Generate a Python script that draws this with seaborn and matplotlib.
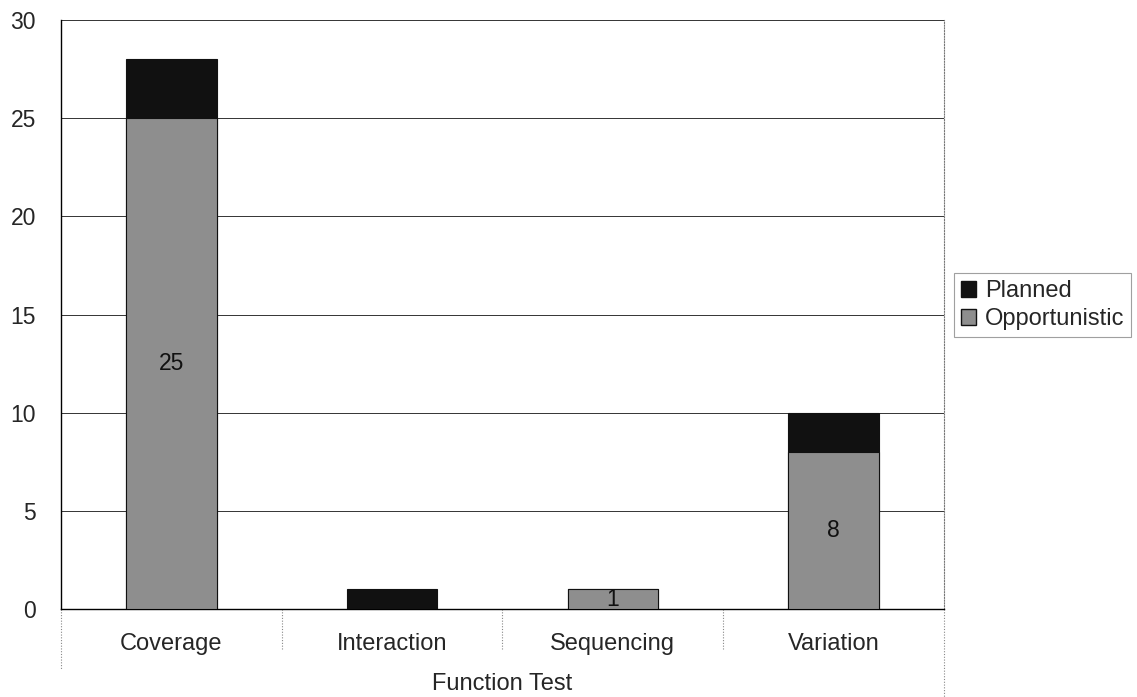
import matplotlib
matplotlib.use("Agg")
import matplotlib.pyplot as plt
import matplotlib.transforms as mtransforms
from matplotlib.patches import Patch
import seaborn as sns
import pandas as pd

categories = ["Coverage", "Interaction", "Sequencing", "Variation"]
opportunistic = [25, 0, 1, 8]
planned = [3, 1, 0, 2]
opp_labels = ["25", "", "1", "8"]
yticks = [0, 5, 10, 15, 20, 25, 30]

sns.set_theme(style="white")
plt.rcParams["font.family"] = ["Liberation Sans", "DejaVu Sans"]

df = pd.DataFrame({
    "Function Test": categories,
    "Opportunistic": opportunistic,
    "Planned": planned,
})
df["Total"] = df["Opportunistic"] + df["Planned"]

fig = plt.figure(figsize=(11.37, 6.97), dpi=100)
ax = fig.add_axes([61/1137, 88/697, 883/1137, 589/697])

BLACK = "#111111"
GRAY = "#8e8e8e"

sns.barplot(data=df, x="Function Test", y="Total", color=BLACK, width=0.41,
            edgecolor=BLACK, linewidth=0.8, ax=ax, saturation=1, zorder=3)
sns.barplot(data=df, x="Function Test", y="Opportunistic", color=GRAY, width=0.41,
            edgecolor=BLACK, linewidth=0.8, ax=ax, saturation=1, zorder=4)

ax.set_xlim(-0.5, 3.5)
ax.set_ylim(0, 30)
ax.set_yticks(yticks)
ax.set_yticklabels([str(t) for t in yticks], fontsize=16.5)
ax.tick_params(axis="y", length=4, width=0.8, color="black", direction="out", pad=14)
ax.tick_params(axis="x", length=0, labelsize=17, pad=17)
ax.yaxis.grid(True, color="#333333", linewidth=0.7)
ax.set_axisbelow(True)

ax.spines["top"].set_visible(False)
ax.spines["left"].set_color("black")
ax.spines["left"].set_linewidth(1.0)
ax.spines["bottom"].set_color("black")
ax.spines["bottom"].set_linewidth(1.0)
ax.spines["right"].set_color("#777777")
ax.spines["right"].set_linestyle((0, (1, 1.5)))
ax.spines["right"].set_linewidth(0.8)

ax.set_ylabel("")
ax.set_xlabel("Function Test", fontsize=17, labelpad=13)

# data labels on opportunistic segments
for i, (v, lab) in enumerate(zip(opportunistic, opp_labels)):
    if lab:
        ax.text(i, v / 2, lab, ha="center", va="center", fontsize=16.5, color="#111111", zorder=5)

# category divider marks below the axis
trans = mtransforms.blended_transform_factory(ax.transData, ax.transAxes)
for xpos, depth in [(-0.5, -0.103), (0.5, -0.07), (1.5, -0.07), (2.5, -0.07), (3.5, -0.15)]:
    ax.plot([xpos, xpos], [0, depth], transform=trans, color="#888888",
            linewidth=0.8, linestyle=(0, (1, 1.5)), clip_on=False)

handles = [Patch(facecolor=BLACK, edgecolor=BLACK, label="Planned"),
           Patch(facecolor=GRAY, edgecolor=BLACK, label="Opportunistic")]
leg = fig.legend(handles=handles, loc="upper left", bbox_to_anchor=(954/1137, 1 - 273/697),
                 borderaxespad=0, fontsize=17, frameon=True, fancybox=False,
                 handlelength=0.65, handleheight=0.65,
                 handletextpad=0.35, borderpad=0.3, labelspacing=0.25)
leg.get_frame().set_edgecolor("#888888")
leg.get_frame().set_linewidth(0.8)

fig.savefig("out.png", dpi=100)
